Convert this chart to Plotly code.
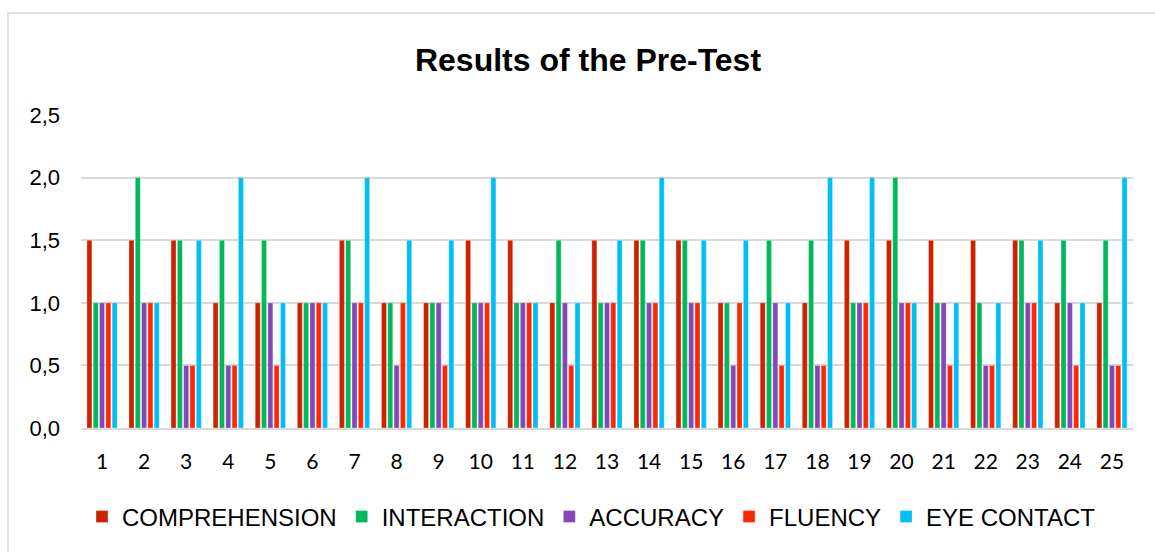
import plotly.graph_objects as go

students = [str(i) for i in range(1, 26)]
comprehension = [1.5, 1.5, 1.5, 1, 1, 1, 1.5, 1, 1, 1.5, 1.5, 1, 1.5, 1.5, 1.5, 1, 1, 1, 1.5, 1.5, 1.5, 1.5, 1.5, 1, 1]
interaction   = [1, 2, 1.5, 1.5, 1.5, 1, 1.5, 1, 1, 1, 1, 1.5, 1, 1.5, 1.5, 1, 1.5, 1.5, 1, 2, 1, 1, 1.5, 1.5, 1.5]
accuracy      = [1, 1, 0.5, 0.5, 1, 1, 1, 0.5, 1, 1, 1, 1, 1, 1, 1, 0.5, 1, 0.5, 1, 1, 1, 0.5, 1, 1, 0.5]
fluency       = [1, 1, 0.5, 0.5, 0.5, 1, 1, 1, 0.5, 1, 1, 0.5, 1, 1, 1, 1, 0.5, 0.5, 1, 1, 0.5, 0.5, 1, 0.5, 0.5]
eye_contact   = [1, 1, 1.5, 2, 1, 1, 2, 1.5, 1.5, 2, 1, 1, 1.5, 2, 1.5, 1.5, 1, 2, 2, 1, 1, 1, 1.5, 1, 2]

series = [
    ("COMPREHENSION", comprehension, "#CC2200"),
    ("INTERACTION", interaction, "#00B85C"),
    ("ACCURACY", accuracy, "#8447B5"),
    ("FLUENCY", fluency, "#FF2600"),
    ("EYE CONTACT", eye_contact, "#00BFF3"),
]
y_ticks = [0, 0.5, 1.0, 1.5, 2.0, 2.5]

fig = go.Figure()
for name, vals, col in series:
    fig.add_trace(go.Bar(
        x=students, y=vals, name=name,
        marker=dict(color=col, line=dict(color="rgba(255,255,255,0.55)", width=0.6)),
    ))

W, H = 1155, 552
L, R, T, B = 81, 22, 115, 124
pw = W - L - R
ph = H - T - B

def px(x):
    return (x - L) / pw

def py(y):
    return (H - B - y) / ph

fig.update_layout(
    width=W, height=H,
    margin=dict(l=L, r=R, t=T, b=B),
    paper_bgcolor="white", plot_bgcolor="white",
    barmode="group", bargap=0.25, bargroupgap=0.2,
    separators=",.",
    font=dict(family="Liberation Sans, Arial, sans-serif", color="black"),
    title=dict(text="<b>Results of the Pre-Test</b>", x=px(588), xref="paper",
               xanchor="center", y=1 - 60 / H, yanchor="middle",
               font=dict(size=32, family="Liberation Sans, Arial, sans-serif", color="black")),
    legend=dict(orientation="h", x=px(82), xanchor="left", y=py(517), yanchor="middle",
                font=dict(size=24, family="Liberation Sans, Arial, sans-serif", color="black"),
                traceorder="normal", itemwidth=30, bgcolor="rgba(0,0,0,0)"),
    showlegend=True,
)
fig.update_xaxes(
    type="category", range=[-0.5, 24.5],
    showgrid=False, showline=True, linecolor="#D9D9D9", linewidth=2,
    ticks="", ticklabelstandoff=14,
    tickfont=dict(size=21, family="Lato, Open Sans, sans-serif", color="black"),
)
fig.update_yaxes(
    range=[0, 2.5], tickvals=y_ticks, tickformat=".1f",
    showgrid=True, gridcolor="#D9D9D9", gridwidth=2,
    showline=False, zeroline=False, ticks="", ticklabelstandoff=20,
    tickfont=dict(size=22, family="Liberation Sans, Arial, sans-serif", color="black"),
)
fig.add_shape(type="rect", xref="paper", yref="paper",
              x0=px(8), x1=px(W + 20), y0=py(H + 20), y1=py(13),
              line=dict(color="#D9D9D9", width=1.5), fillcolor="rgba(0,0,0,0)", layer="below")

fig.write_html("out.html", config={"displayModeBar": False},
               post_script="document.body.style.margin='0';")
